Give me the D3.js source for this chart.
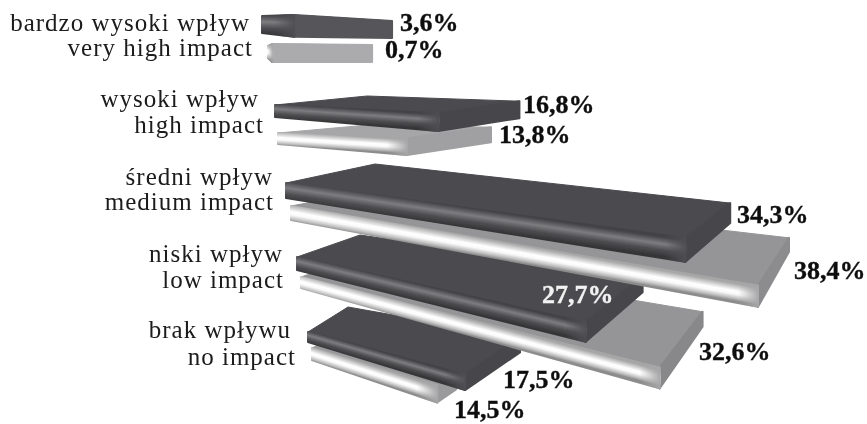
<!DOCTYPE html>
<html><head><meta charset="utf-8">
<style>html,body{margin:0;padding:0;background:#fff}svg{display:block}</style>
<script src="https://cdn.jsdelivr.net/npm/d3@7/dist/d3.min.js"></script>
</head><body><svg id="c" width="867" height="424"></svg>
<script>
// ---- data ----
const categoriesPl = ["bardzo wysoki wpływ","wysoki wpływ","średni wpływ","niski wpływ","brak wpływu"];
const categoriesEn = ["very high impact","high impact","medium impact","low impact","no impact"];
const valuesDark  = [3.6,16.8,34.3,27.7,17.5];
const valuesLight = [0.7,13.8,38.4,32.6,14.5];

// ---- layout of the perspective frames (no data here) ----
const framesDark = [
 {x:262,top:16, bot:33, sT:-.03, sB:.12, gain:1.49, back:[98,6],   backH:17, apex:[30,-1]},
 {x:275,top:105,bot:117,sT:.05,  sB:.086,gain:1.025,back:[81,-12], backH:17, apex:[92,-9]},
 {x:286,top:183,bot:198,sT:.138, sB:.16, gain:.99,  back:[45,-35], backH:20, apex:[89,-19]},
 {x:297,top:257,bot:270,sT:.226, sB:.249,gain:.945, back:[57,-46], backH:16, apex:[63,-22]},
 {x:308,top:332,bot:342,sT:.27,  sB:.306,gain:.934, back:[55,-37], backH:15, apex:[40,-25]}
];
const framesLight = [
 {x:268,top:46, bot:58, sT:-.5,  sB:1,   gain:1.6,  back:[100,1],  backH:17, apex:[4,-2]},
 {x:278,top:133,bot:144,sT:.04,  sB:.085,gain:1.045,back:[84,-11], backH:15, apex:[90,-8]},
 {x:291,top:206,bot:220,sT:.171, sB:.186,gain:1,    back:[31,-48], backH:14, apex:[85,-16]},
 {x:301,top:277,bot:288,sT:.253, sB:.28, gain:.95,  back:[43,-56], backH:15, apex:[62,-22]},
 {x:312,top:348,bot:360,sT:.30,  sB:.34, gain:.95,  back:[19,-12], backH:16, apex:[40,-20]}
];
const labelPosDark  = [[400,31],[523,113],[737,223],[542,303],[503,388]];
const labelPosLight = [[385,58],[499,143],[794,279],[699,360],[454,418]];
const catPosPl = [[249,31],[258,107],[272,185],[282,262],[290,338]];
const catPosEn = [[252,56],[263,133],[273,210],[283,288],[295,365]];

const styleDark = {face:["#55555a","#4b4b50","#4b4b50","#4b4b50","#4b4b50"],end:["#55555a","#47474b","#47474b","#47474b","#47474b"],fade:"#4f4f53",
  stops:[[0,"#434347"],[.36,"#7d7d80"],[.68,"#4e4e51"],[1,"#363638"]]};
const styleLight = {face:["#ababad","#a6a6a8","#959597","#959597","#9a9a9c"],end:["#ababad","#a0a0a2","#8c8c8f","#88888b","#9a9a9c"],fade:"#a6a6a8",
  stops:[[0,"#a6a6a6"],[.42,"#ffffff"],[.6,"#fafafa"],[.85,"#bebebe"],[1,"#8c8c8c"]]};

// ---- scale: perspective makes the front edge grow faster than the value ----
const length = d3.scalePow().exponent(1.3).domain([0,38.4]).range([0,467]);
const fmt = v => d3.format(".1f")(v).replace(".",",")+"%";
const pts = a => a.map(p=>p.join(",")).join(" ");

const svg = d3.select("#c");
const defs = svg.append("defs");
defs.append("filter").attr("id","soft").attr("x","-5%").attr("y","-5%").attr("width","110%").attr("height","110%")
  .append("feGaussianBlur").attr("stdDeviation",.65);
defs.append("filter").attr("id","softT").attr("x","-5%").attr("y","-5%").attr("width","110%").attr("height","110%")
  .append("feGaussianBlur").attr("stdDeviation",.3);
const bars = svg.append("g").attr("filter","url(#soft)");

function drawBar(v,f,st,id,row){
  const xe = f.x + length(v)*f.gain;
  const yT = x => f.top + f.sT*(x-f.x), yB = x => f.bot + f.sB*(x-f.x);
  const FL=[f.x,f.top], FR=[xe,yT(xe)], FRb=[xe,yB(xe)], BL=[f.x,f.bot];
  const BK=[xe+f.back[0],yT(xe)+f.back[1]], BKb=[BK[0],BK[1]+f.backH];
  const AP=[f.x+f.apex[0],f.top+f.apex[1]];
  const g = bars.append("g");
  g.append("polygon").attr("points",pts([FL,AP,BK,FR])).attr("fill",st.face[row])
    .attr("stroke",st.face[row]).attr("stroke-width",1).attr("stroke-linejoin","round");
  g.append("polygon").attr("points",pts([FR,BK,BKb,FRb])).attr("fill",st.end[row])
    .attr("stroke",st.end[row]).attr("stroke-width",2).attr("stroke-linejoin","round");
  const xm=(f.x+xe)/2, s=(f.sT+f.sB)/2, h=yB(xm)-yT(xm), c=1/(1+s*s);
  const grad=defs.append("linearGradient").attr("id",id).attr("gradientUnits","userSpaceOnUse")
    .attr("x1",xm).attr("y1",yT(xm)).attr("x2",xm-s*h*c).attr("y2",yT(xm)+h*c);
  st.stops.forEach(d=>grad.append("stop").attr("offset",d[0]).attr("stop-color",d[1]));
  g.append("polygon").attr("points",pts([FL,FR,FRb,BL])).attr("fill",`url(#${id})`)
    .attr("stroke",`url(#${id})`).attr("stroke-width",2).attr("stroke-linejoin","round");
  const w=Math.min(20,xe-f.x), xs=xe-w;
  const fg=defs.append("linearGradient").attr("id",id+"f").attr("gradientUnits","userSpaceOnUse")
    .attr("x1",xs).attr("y1",0).attr("x2",xe+1).attr("y2",0);
  fg.append("stop").attr("offset",0).attr("stop-color",st.fade).attr("stop-opacity",0);
  fg.append("stop").attr("offset",1).attr("stop-color",st.fade).attr("stop-opacity",1);
  g.append("polygon").attr("points",pts([[xs,yT(xs)-1],[xe+1,yT(xe)-1],[xe+1,yB(xe)+1],[xs,yB(xs)+1]])).attr("fill",`url(#${id}f)`);
}
// nearer rows are painted first: each row overlaps the one in front of it
d3.range(valuesDark.length-1,-1,-1).forEach(i=>{
  drawBar(valuesLight[i],framesLight[i],styleLight,"gl"+i,i);
  drawBar(valuesDark[i],framesDark[i],styleDark,"gd"+i,i);
});

const cats = svg.append("g").attr("filter","url(#softT)")
  .attr("font-family","'Liberation Serif',serif").attr("font-size",25).attr("fill","#1a1a1a")
  .attr("letter-spacing",1).attr("text-anchor","end");
cats.selectAll(".pl").data(categoriesPl).join("text").attr("class","pl")
  .attr("x",(d,i)=>catPosPl[i][0]+1).attr("y",(d,i)=>catPosPl[i][1]).text(d=>d);
cats.selectAll(".en").data(categoriesEn).join("text").attr("class","en")
  .attr("x",(d,i)=>catPosEn[i][0]+1).attr("y",(d,i)=>catPosEn[i][1]).text(d=>d);

const vals = svg.append("g").attr("filter","url(#softT)")
  .attr("font-family","'Liberation Serif',serif").attr("font-size",26).attr("font-weight","bold").attr("fill","#0d0d0d")
  .attr("stroke-width",.35);
vals.selectAll(".d").data(valuesDark).join("text").attr("class","d")
  .attr("x",(d,i)=>labelPosDark[i][0]).attr("y",(d,i)=>labelPosDark[i][1])
  .attr("fill",d=>d===27.7?"#f2f2f2":null).attr("stroke",d=>d===27.7?"#f2f2f2":"#0d0d0d").text(fmt);
vals.selectAll(".l").data(valuesLight).join("text").attr("class","l")
  .attr("x",(d,i)=>labelPosLight[i][0]).attr("y",(d,i)=>labelPosLight[i][1]).attr("stroke","#0d0d0d").text(fmt);
</script></body></html>
